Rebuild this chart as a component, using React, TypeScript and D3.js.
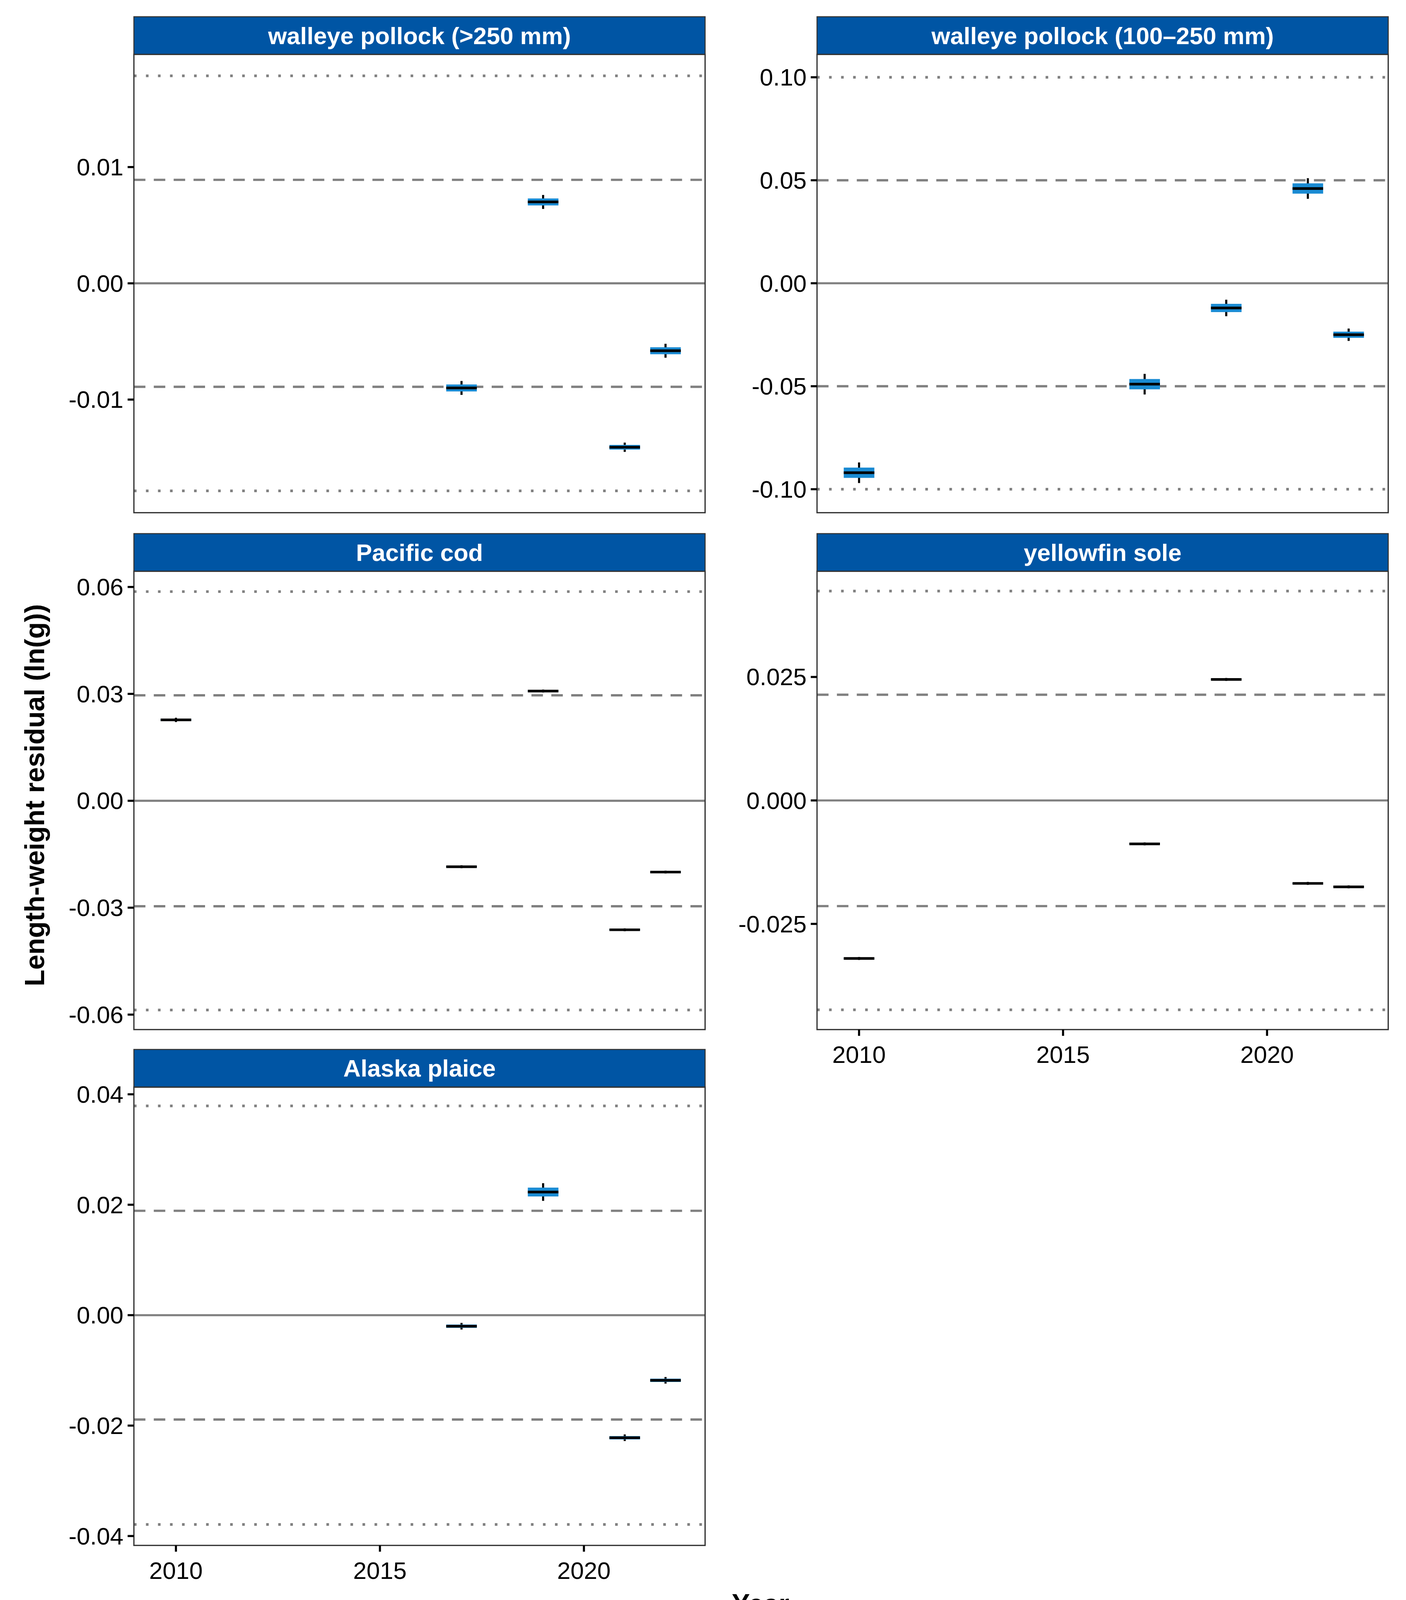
import React from "react";
import * as d3 from "d3";

// design units (scaled up to 3600x4200 via viewBox)
const W = 1344;
const H = 1568;

const panelTitles = [
  "walleye pollock (>250 mm)",
  "walleye pollock (100\u2013250 mm)",
  "Pacific cod",
  "yellowfin sole",
  "Alaska plaice",
];
const panelYears = [
  [2017, 2019, 2021, 2022],
  [2010, 2017, 2019, 2021, 2022],
  [2010, 2017, 2019, 2021, 2022],
  [2010, 2017, 2019, 2021, 2022],
  [2017, 2019, 2021, 2022],
];
const panelMedians = [
  [-0.009, 0.007, -0.0141, -0.0058],
  [-0.092, -0.049, -0.012, 0.046, -0.025],
  [0.0227, -0.0185, 0.0308, -0.0362, -0.02],
  [-0.032, -0.0088, 0.0245, -0.0168, -0.0175],
  [-0.002, 0.0223, -0.0222, -0.0118],
];
// half box height and half whisker length
const panelBoxHalf = [
  [0.0003, 0.0003, 0.0002, 0.0003],
  [0.0025, 0.0025, 0.002, 0.0025, 0.0015],
  [0.0003, 0.0002, 0.0002, 0.0002, 0.0002],
  [0.0001, 0.0001, 0.0001, 0.0001, 0.0001],
  [0.0003, 0.0008, 0.0003, 0.0003],
];
const panelWhiskerHalf = [
  [0.0006, 0.0006, 0.0004, 0.0006],
  [0.005, 0.005, 0.004, 0.005, 0.003],
  [0.0006, 0.0004, 0.0004, 0.0004, 0.0004],
  [0.0003, 0.0003, 0.0003, 0.0003, 0.0003],
  [0.0006, 0.0016, 0.0006, 0.0006],
];
const panelYDomain = [
  [-0.01973, 0.01969],
  [-0.1114, 0.1111],
  [-0.0642, 0.0644],
  [-0.0464, 0.0464],
  [-0.0417, 0.0413],
];
const panelYTicks = [
  [0.01, 0, -0.01],
  [0.1, 0.05, 0, -0.05, -0.1],
  [0.06, 0.03, 0, -0.03, -0.06],
  [0.025, 0, -0.025],
  [0.04, 0.02, 0, -0.02, -0.04],
];
const panelTickFmt = [".2f", ".2f", ".2f", ".3f", ".2f"];
const panelDashed = [0.0089, 0.05, 0.0296, 0.0214, 0.0189];
const panelDotted = [0.01785, 0.1, 0.0587, 0.0424, 0.0379];
const xTicks = [2010, 2015, 2020];
const xDomain = [2008.97, 2022.97];

const cols = [128, 781];
const rows = [16, 510, 1003];
const panelW = 546;
const stripH = 36;
const plotH = 438;

const fmtNum = (f: string) => (v: number) => d3.format(f)(v).replace("\u2212", "-");

function Panel({ i }: { i: number }) {
  const col = i % 2;
  const row = Math.floor(i / 2);
  const x0 = cols[col];
  const top = rows[row];
  const py = top + stripH;
  const x = d3.scaleLinear().domain(xDomain).range([x0, x0 + panelW]);
  const y = d3.scaleLinear().domain(panelYDomain[i]).range([py + plotH, py]);
  const showX = i === 3 || i === 4;
  const fmt = fmtNum(panelTickFmt[i]);
  const bw = 0.75;
  return (
    <g>
      <rect x={x0} y={top} width={panelW} height={stripH} fill="#0055A4" stroke="#333" strokeWidth={1} />
      <text x={x0 + panelW / 2} y={top + stripH / 2 + 8} textAnchor="middle" fill="#fff" fontWeight="bold" fontSize={23}>
        {panelTitles[i]}
      </text>
      <line x1={x0} x2={x0 + panelW} y1={y(0)} y2={y(0)} stroke="#808080" strokeWidth={2} />
      {[1, -1].map((s) => (
        <g key={s}>
          <line x1={x0} x2={x0 + panelW} y1={y(s * panelDashed[i])} y2={y(s * panelDashed[i])} stroke="#808080" strokeWidth={2.2} strokeDasharray="11 8" />
          <line x1={x0} x2={x0 + panelW} y1={y(s * panelDotted[i])} y2={y(s * panelDotted[i])} stroke="#808080" strokeWidth={2.5} strokeDasharray="2.5 9" />
        </g>
      ))}
      {panelYears[i].map((yr, k) => {
        const m = panelMedians[i][k];
        const b = panelBoxHalf[i][k];
        const w = panelWhiskerHalf[i][k];
        return (
          <g key={yr}>
            <line x1={x(yr)} x2={x(yr)} y1={y(m + w)} y2={y(m - w)} stroke="#000" strokeWidth={2} />
            <rect x={x(yr - bw / 2)} width={x(yr + bw / 2) - x(yr - bw / 2)} y={y(m + b)} height={Math.max(0.5, y(m - b) - y(m + b))} fill="#1A8BD3" />
            <line x1={x(yr - bw / 2)} x2={x(yr + bw / 2)} y1={y(m)} y2={y(m)} stroke="#000" strokeWidth={2.5} />
          </g>
        );
      })}
      <rect x={x0} y={py} width={panelW} height={plotH} fill="none" stroke="#333" strokeWidth={1.2} />
      {panelYTicks[i].map((t) => (
        <g key={t}>
          <line x1={x0 - 6} x2={x0} y1={y(t)} y2={y(t)} stroke="#000" strokeWidth={2} />
          <text x={x0 - 10} y={y(t) + 8} textAnchor="end" fontSize={23}>
            {fmt(t)}
          </text>
        </g>
      ))}
      {showX &&
        xTicks.map((t) => (
          <g key={t}>
            <line x1={x(t)} x2={x(t)} y1={py + plotH} y2={py + plotH + 6} stroke="#000" strokeWidth={2} />
            <text x={x(t)} y={py + plotH + 32} textAnchor="middle" fontSize={23}>
              {t}
            </text>
          </g>
        ))}
    </g>
  );
}

export default function App() {
  return (
    <svg
      width={3600}
      height={4200}
      viewBox={`0 0 ${W} ${H}`}
      style={{ position: "absolute", left: 0, top: 0, background: "#fff" }}
      fontFamily="Liberation Sans, Arial, sans-serif"
    >
      <rect width={W} height={H} fill="#fff" />
      {panelTitles.map((_, i) => (
        <Panel key={i} i={i} />
      ))}
      <text transform="translate(42,760) rotate(-90)" textAnchor="middle" fontWeight="bold" fontSize={26}>
        Length-weight residual (ln(g))
      </text>
      <text x={727} y={1542} textAnchor="middle" fontWeight="bold" fontSize={26}>
        Year
      </text>
    </svg>
  );
}
